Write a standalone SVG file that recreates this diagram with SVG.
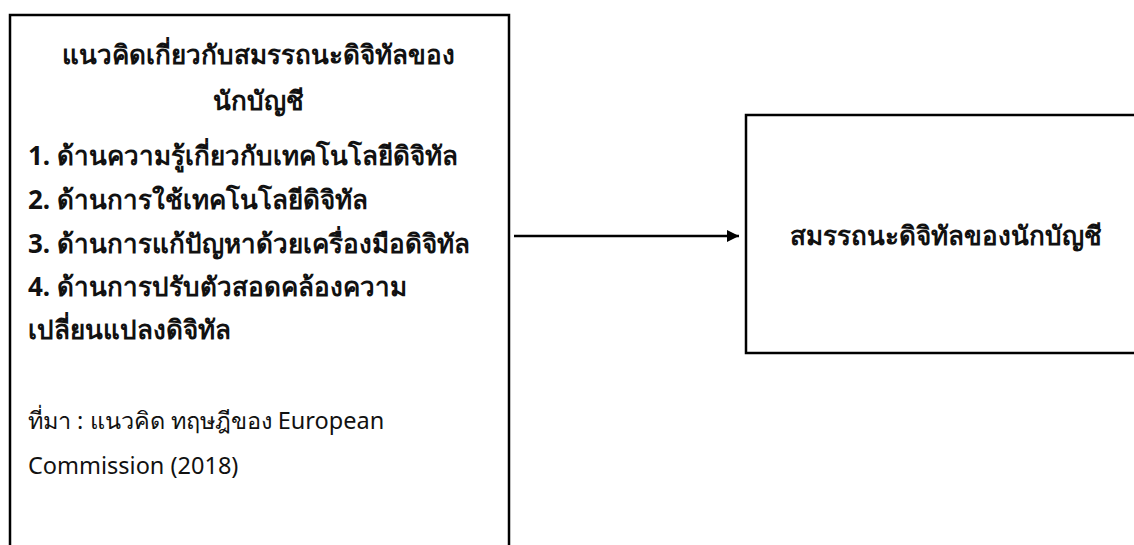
<svg xmlns="http://www.w3.org/2000/svg" width="1134" height="545" viewBox="0 0 1134 545">
<style>
.box{fill:#fff;stroke:#000;stroke-width:2.5}
.b{font-family:"Noto Sans","DejaVu Sans",sans-serif;font-weight:bold;font-size:26px;fill:#111}
.r{font-family:"Noto Sans","DejaVu Sans",sans-serif;font-size:23.5px;fill:#111}
.edge{stroke:#000;stroke-width:2.5;fill:none}
</style>
<defs>
<marker id="arr" viewBox="0 0 10 10" refX="10" refY="5" markerWidth="15" markerHeight="12" markerUnits="userSpaceOnUse" orient="auto">
<path d="M0,0 L10,5 L0,10 z" fill="#000"/>
</marker>
</defs>
<rect width="1134" height="545" fill="#fff"/>
<g id="node-left">
<rect class="box" x="10" y="15" width="499" height="560"/>
<text class="b" x="258" y="64" text-anchor="middle">แนวคิดเกี่ยวกับสมรรถนะดิจิทัลของ</text>
<text class="b" x="258" y="110" text-anchor="middle">นักบัญชี</text>
<text class="b" x="28" y="165">1. ด้านความรู้เกี่ยวกับเทคโนโลยีดิจิทัล</text>
<text class="b" x="28" y="209">2. ด้านการใช้เทคโนโลยีดิจิทัล</text>
<text class="b" x="28" y="253">3. ด้านการแก้ปัญหาด้วยเครื่องมือดิจิทัล</text>
<text class="b" x="28" y="296">4. ด้านการปรับตัวสอดคล้องความ</text>
<text class="b" x="28" y="339">เปลี่ยนแปลงดิจิทัล</text>
<text class="r" x="28" y="429">ที่มา : แนวคิด ทฤษฎีของ European</text>
<text class="r" x="28" y="474">Commission (2018)</text>
</g>
<g id="node-right">
<rect class="box" x="746" y="115" width="400" height="238"/>
<text class="b" x="790" y="245">สมรรถนะดิจิทัลของนักบัญชี</text>
</g>
<g id="connectors">
<line class="edge" x1="514" y1="236" x2="739" y2="236" marker-end="url(#arr)"/>
</g>
</svg>
